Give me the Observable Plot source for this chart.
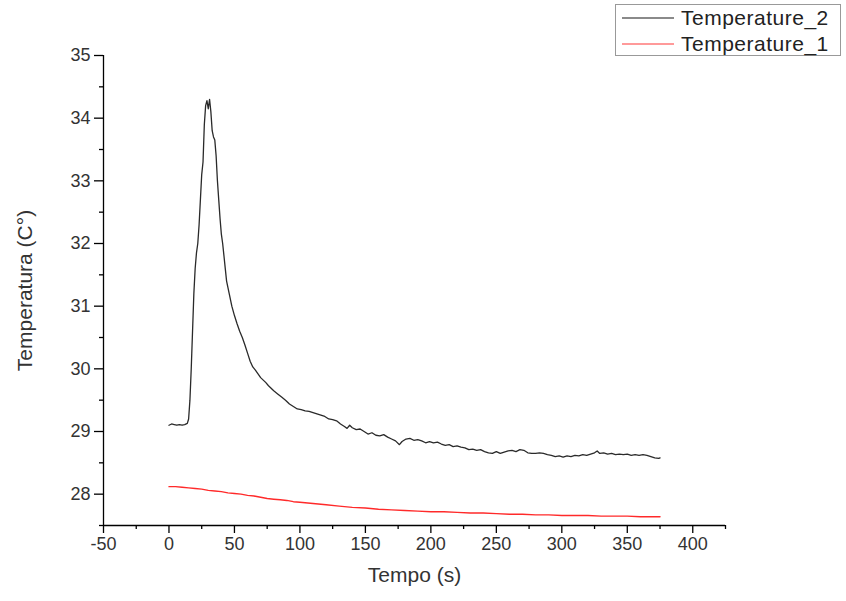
<!DOCTYPE html>
<html><head><meta charset="utf-8">
<script src="https://cdn.jsdelivr.net/npm/d3@7"></script>
<script src="https://cdn.jsdelivr.net/npm/@observablehq/plot@0.6"></script>
<style>
body{margin:0;background:#fff;font-family:"Liberation Sans",Arial,sans-serif;}
#wrap{position:relative;width:846px;height:601px;overflow:hidden;}
#legend{position:absolute;left:615px;top:4px;width:226px;height:52px;border:1px solid #999;background:#fff;box-sizing:border-box;}
.row{position:absolute;left:0;height:24px;display:flex;align-items:center;font-size:21px;color:#222;letter-spacing:0.5px;}
.swatch{width:52px;height:0;margin-left:6px;margin-right:7px;}
</style></head>
<body><div id="wrap"><div id="chart"></div>
<div id="legend"></div></div>
<script>
// Temperature_2 (black)
const time2 = [0,2,4,6,8,10,12,14,15,16,17,18,19,20,21,22,23,24,25,26,27,28,29,30,31,32,33,34,35,36,37,38,39,40,41,42,43,44,45,46,48,50,52,54,56,58,60,62,64,66,68,70,72,74,76,78,80,83,86,89,92,95,98,101,104,107,110,113,116,119,122,125,128,131,134,136,138,140,143,146,149,152,155,158,161,164,167,170,173,176,178,181,184,187,190,193,196,199,202,205,208,211,214,217,220,223,226,229,232,235,238,241,244,247,250,253,256,259,262,265,268,271,274,277,280,283,286,289,292,295,298,301,304,307,310,313,316,319,322,325,327,329,332,335,338,341,344,347,350,353,356,359,362,365,368,371,374,375];
const temp2 = [29.10,29.12,29.11,29.10,29.11,29.10,29.11,29.13,29.2,29.5,30.0,30.6,31.2,31.6,31.85,32.0,32.3,32.7,33.1,33.3,33.9,34.2,34.28,34.15,34.3,34.1,33.8,33.7,33.65,33.4,33.0,32.7,32.4,32.15,32.0,31.8,31.6,31.4,31.3,31.2,31.0,30.85,30.72,30.6,30.5,30.38,30.25,30.12,30.03,29.98,29.92,29.86,29.82,29.78,29.73,29.69,29.65,29.6,29.55,29.5,29.44,29.4,29.36,29.35,29.33,29.32,29.30,29.28,29.26,29.24,29.2,29.19,29.17,29.12,29.08,29.05,29.10,29.06,29.03,29.04,29.0,28.96,28.98,28.94,28.93,28.95,28.91,28.88,28.85,28.79,28.84,28.88,28.89,28.86,28.87,28.85,28.82,28.84,28.82,28.83,28.80,28.78,28.79,28.76,28.77,28.75,28.74,28.71,28.72,28.70,28.71,28.68,28.66,28.65,28.68,28.65,28.67,28.69,28.70,28.68,28.71,28.70,28.66,28.65,28.65,28.66,28.65,28.63,28.62,28.60,28.61,28.59,28.61,28.60,28.62,28.61,28.63,28.62,28.64,28.66,28.69,28.65,28.66,28.64,28.65,28.63,28.64,28.63,28.64,28.62,28.63,28.62,28.63,28.62,28.60,28.58,28.57,28.58];
// Temperature_1 (red)
const time1 = [0,5,10,15,20,25,30,35,40,45,50,55,60,65,70,75,80,85,90,95,100,110,120,130,140,150,160,170,180,190,200,210,220,230,240,250,260,270,280,290,300,310,320,330,340,350,360,370,375];
const temp1 = [28.12,28.12,28.11,28.10,28.09,28.08,28.06,28.05,28.04,28.02,28.01,28.00,27.98,27.97,27.95,27.93,27.92,27.91,27.90,27.88,27.87,27.85,27.83,27.81,27.79,27.78,27.76,27.75,27.74,27.73,27.72,27.72,27.71,27.70,27.70,27.69,27.68,27.68,27.67,27.67,27.66,27.66,27.66,27.65,27.65,27.65,27.64,27.64,27.64];
const seriesNames = ["Temperature_2","Temperature_1"];
const seriesColors = ["#2a2a2a","#ff2a2a"];
const legendColors = ["#8a8a8a","#ff9a9a"];
const xMajor = [-50,0,50,100,150,200,250,300,350,400];
const xMinor = [-25,25,75,125,175,225,275,325,375,425];
const yMajor = [28,29,30,31,32,33,34,35];
const yMinor = [27.5,28.5,29.5,30.5,31.5,32.5,33.5,34.5];
const xLabel = "Tempo (s)";
const yLabel = "Temperatura (C°)";

const data2 = time2.map((t,i)=>({t, v: temp2[i]}));
const data1 = time1.map((t,i)=>({t, v: temp1[i]}));

const chart = Plot.plot({
  width: 846, height: 601,
  marginLeft: 103, marginRight: 121, marginTop: 55, marginBottom: 76,
  x: {domain: [-50, 425]},
  y: {domain: [27.5, 35]},
  style: {fontFamily: "'Liberation Sans', Arial, sans-serif", fontSize: "18px", color: "#333", background: "#fff"},
  marks: [
    Plot.axisX({ticks: xMajor, tickSize: 8, tickPadding: 4, tickFormat: d => String(d), label: null, stroke: "#000", strokeWidth: 1.3}),
    Plot.axisX({ticks: xMinor, tickSize: 4, tickFormat: () => "", label: null, stroke: "#000", strokeWidth: 1.3}),
    Plot.axisY({ticks: yMajor, tickSize: 9, tickPadding: 4, tickFormat: d => String(d), label: null, stroke: "#000", strokeWidth: 1.3}),
    Plot.axisY({ticks: yMinor, tickSize: 4, tickFormat: () => "", label: null, stroke: "#000", strokeWidth: 1.3}),
    Plot.ruleX([-50], {stroke: "#000", strokeWidth: 1.3}),
    Plot.ruleY([27.5], {stroke: "#000", strokeWidth: 1.3}),
    Plot.lineY(data1, {x: "t", y: "v", stroke: seriesColors[1], strokeWidth: 1.4}),
    Plot.lineY(data2, {x: "t", y: "v", stroke: seriesColors[0], strokeWidth: 1.3}),
    Plot.text([xLabel], {frameAnchor: "bottom", dy: 56, fontSize: 21, fill: "#333"}),
    Plot.text([yLabel], {frameAnchor: "left", textAnchor: "middle", dx: -78, rotate: -90, fontSize: 21, fill: "#333"})
  ]
});
document.getElementById("chart").appendChild(chart);

const legend = document.getElementById("legend");
seriesNames.forEach((name, i) => {
  const row = document.createElement("div");
  row.className = "row";
  row.style.top = (i === 0 ? 1 : 27) + "px";
  const sw = document.createElement("div");
  sw.className = "swatch";
  sw.style.borderTop = "2px solid " + legendColors[i];
  const tx = document.createElement("span");
  tx.textContent = name;
  row.appendChild(sw); row.appendChild(tx);
  legend.appendChild(row);
});
</script>
</body></html>
